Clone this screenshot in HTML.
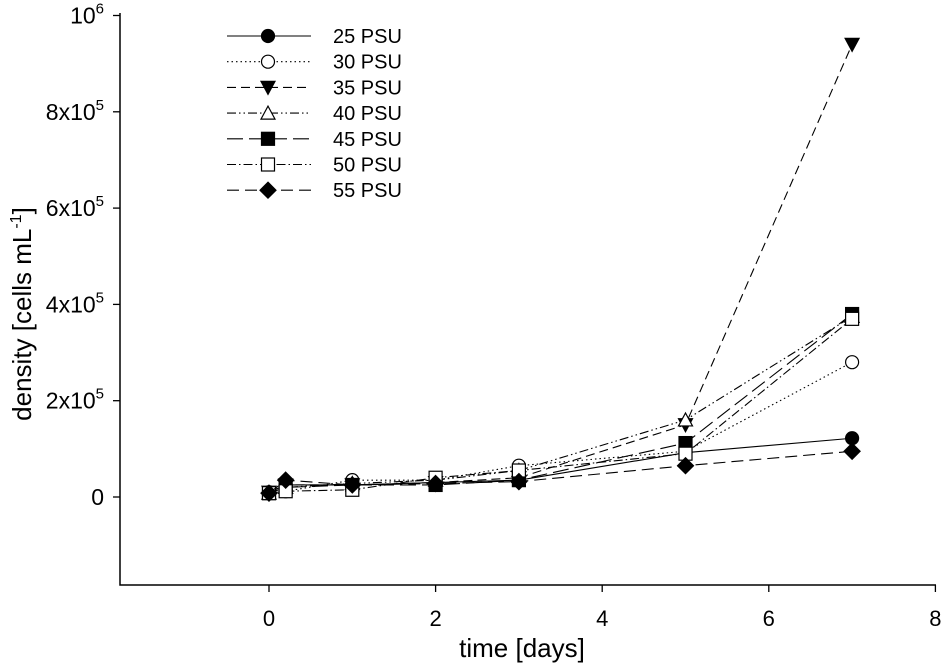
<!DOCTYPE html>
<html><head><meta charset="utf-8"><style>
body{margin:0;background:#fff}
svg{display:block;font-family:"Liberation Sans",Arial,sans-serif}
</style></head><body>
<svg id="chart" width="945" height="664" viewBox="0 0 945 664">
<g id="axes"></g><g id="series"></g><g id="legend"></g>
</svg>
<script>
const days = [0, 0.2, 1, 2, 3, 5, 7];
const labels = ["25 PSU","30 PSU","35 PSU","40 PSU","45 PSU","50 PSU","55 PSU"];
const s25 = [10000, 25000, 25000, 30000, 35000, 92000, 122000];
const s30 = [8000, 12000, 35000, 35000, 65000, 95000, 280000];
const s35 = [10000, 25000, 25000, 30000, 40000, 150000, 940000];
const s40 = [8000, 20000, 28000, 35000, 55000, 160000, 375000];
const s45 = [8000, 20000, 25000, 25000, 35000, 112000, 380000];
const s50 = [8000, 12000, 15000, 40000, 55000, 90000, 370000];
const s55 = [8000, 35000, 25000, 28000, 32000, 65000, 95000];
const xTicks = [0, 2, 4, 6, 8];
const yTicks = [0, 200000, 400000, 600000, 800000, 1000000];
const yTickLabels = ["0","2x10|5","4x10|5","6x10|5","8x10|5","10|6"];

const NS="http://www.w3.org/2000/svg";
function X(d){return 269 + d*83.3;}
function Y(v){return 497 - v/200000*96.3;}
function el(tag, attrs, parent){const e=document.createElementNS(NS,tag);for(const k in attrs)e.setAttribute(k,attrs[k]);parent.appendChild(e);return e;}
const axes=document.getElementById('axes');
let a=el('path',{d:'M120 13 V585 H936',fill:'none',stroke:'#000','stroke-width':1.5},axes);


xTicks.forEach(t=>{
  const l=el('line',{x1:X(t),x2:X(t),y1:585,y2:592,stroke:'#000','stroke-width':1.3},axes);
  
  
  const tx=el('text',{x:X(t),y:626,'text-anchor':'middle','font-size':22},axes);
  tx.textContent=t;
  
  
});
yTicks.forEach((t,i)=>{
  const l=el('line',{x1:113,x2:120,y1:Y(t),y2:Y(t),stroke:'#000','stroke-width':1.3},axes);
  
  
  const parts=yTickLabels[i].split('|');
  const tx=el('text',{x:104,y:Y(t)+8,'text-anchor':'end','font-size':23},axes);
  
  
  const s1=el('tspan',{},tx);s1.textContent=parts[0];
  if(parts[1]){const s2=el('tspan',{dy:-10,'font-size':15},tx);s2.textContent=parts[1];}
});
let xt=el('text',{x:522,y:657,'text-anchor':'middle','font-size':26},axes);
xt.textContent='time [days]';


let yt=el('text',{transform:'translate(31,314) rotate(-90)','text-anchor':'middle','font-size':26},axes);


let t1=el('tspan',{},yt);t1.textContent='density [cells mL';
let t2=el('tspan',{dy:-10,'font-size':16},yt);t2.textContent='-1';
let t3=el('tspan',{dy:10},yt);t3.textContent=']';

const styles=[
 {data:s25,dash:'',m:'circle',fill:'#000'},
 {data:s30,dash:'1.5 3',m:'circle',fill:'#fff'},
 {data:s35,dash:'9 5',m:'tridown',fill:'#000'},
 {data:s40,dash:'9 3 1.5 3 1.5 3',m:'triup',fill:'#fff'},
 {data:s45,dash:'16 6',m:'square',fill:'#000'},
 {data:s50,dash:'9 3 1.5 3',m:'square',fill:'#fff'},
 {data:s55,dash:'12 6',m:'diamond',fill:'#000'}
];
function marker(m,x,y,fill,parent){
  const c={fill:fill,stroke:'#000','stroke-width':1.2};
  if(m==='circle') return el('circle',Object.assign({cx:x,cy:y,r:6.5},c),parent);
  if(m==='square') return el('rect',Object.assign({x:x-6.5,y:y-6.5,width:13,height:13},c),parent);
  if(m==='tridown') return el('path',Object.assign({d:`M${x-7} ${y-6}L${x+7} ${y-6}L${x} ${y+7}Z`},c),parent);
  if(m==='triup') return el('path',Object.assign({d:`M${x-7} ${y+6}L${x+7} ${y+6}L${x} ${y-7}Z`},c),parent);
  return el('path',Object.assign({d:`M${x} ${y-8}L${x+8} ${y}L${x} ${y+8}L${x-8} ${y}Z`},c),parent);
}
const series=document.getElementById('series');
const legend=document.getElementById('legend');
styles.forEach((s,i)=>{
  const g=el('g',{},series);
  
  
  const pts=days.map((d,j)=>X(d)+','+Y(s.data[j])).join(' ');
  el('polyline',{points:pts,fill:'none',stroke:'#000','stroke-width':1.1,'stroke-dasharray':s.dash},g);
  days.forEach((d,j)=>{
    const mk=marker(s.m,X(d),Y(s.data[j]),s.fill,g);
    
    
  });
  const ly=36+i*25.7;
  const lg=el('g',{},legend);
  
  
  el('line',{x1:227,x2:311,y1:ly,y2:ly,stroke:'#000','stroke-width':1.1,'stroke-dasharray':s.dash},lg);
  marker(s.m,268,ly,s.fill,lg);
  const lt=el('text',{x:333,y:ly+7,'font-size':20},lg);
  lt.textContent=labels[i];
});
</script>
</body></html>
